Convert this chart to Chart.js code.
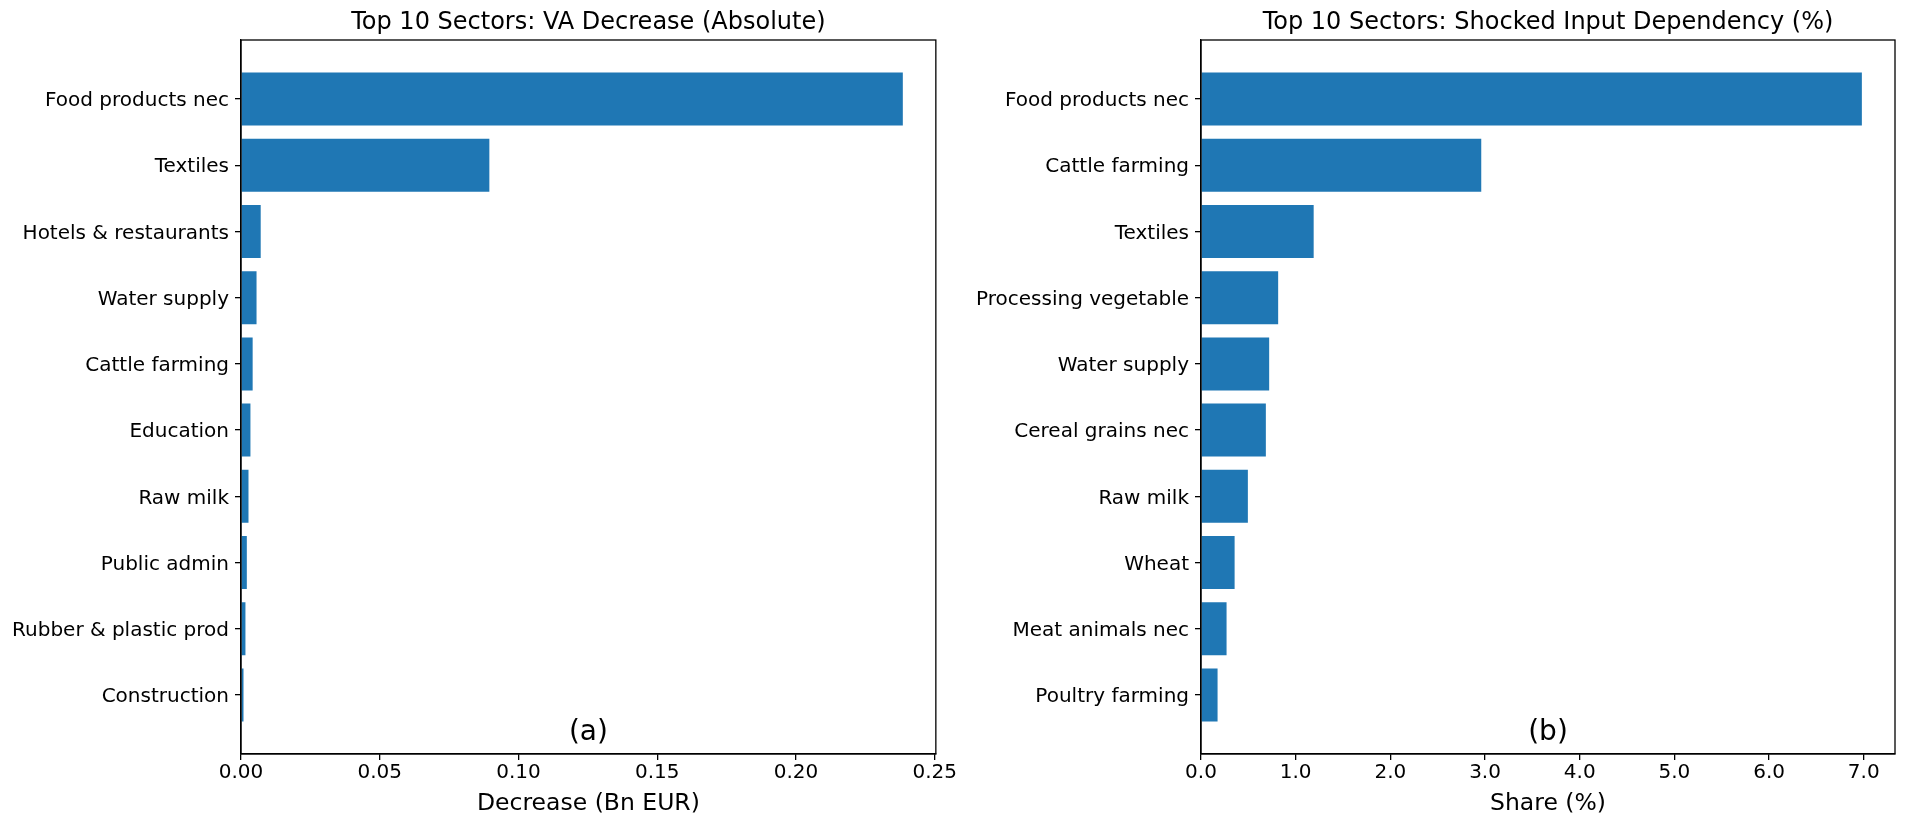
<!DOCTYPE html>
<html>
<head>
<meta charset="utf-8">
<script src="https://cdn.jsdelivr.net/npm/chart.js@4.4.1/dist/chart.umd.min.js"></script>
<style>
  html, body { margin: 0; padding: 0; background: #fff; }
  body { width: 1907px; height: 827px; position: relative; overflow: hidden; }
  .panel { position: absolute; top: 0; height: 827px; }
  #panelA { left: 0; width: 958px; }
  #panelB { left: 950px; width: 957px; }
</style>
</head>
<body>
<div class="panel" id="panelA"><canvas id="chartA"></canvas></div>
<div class="panel" id="panelB"><canvas id="chartB"></canvas></div>
<script>
// ---- data ----
const labelsA = ['Food products nec', 'Textiles', 'Hotels & restaurants', 'Water supply', 'Cattle farming',
  'Education', 'Raw milk', 'Public admin', 'Rubber & plastic prod', 'Construction'];
const valuesA = [0.2385, 0.0895, 0.0071, 0.0056, 0.0042, 0.0034, 0.0027, 0.0021, 0.0016, 0.0009];
const ticksA = [0, 0.05, 0.10, 0.15, 0.20, 0.25];

const labelsB = ['Food products nec', 'Cattle farming', 'Textiles', 'Processing vegetable', 'Water supply',
  'Cereal grains nec', 'Raw milk', 'Wheat', 'Meat animals nec', 'Poultry farming'];
const valuesB = [6.98, 2.96, 1.19, 0.815, 0.72, 0.685, 0.495, 0.355, 0.27, 0.175];
const ticksB = [0, 1, 2, 3, 4, 5, 6, 7];

const FONT = "'DejaVu Sans', sans-serif";
const BAR = '#1f77b4';

// frame + title + panel letter
const panelText = {
  id: 'panelText',
  afterDraw(chart, args, opts) {
    const { ctx, chartArea: a } = chart;
    const cx = (a.left + a.right) / 2;
    ctx.save();
    ctx.strokeStyle = '#000';
    ctx.lineWidth = 1.3;
    ctx.strokeRect(a.left, a.top, a.right - a.left, a.bottom - a.top);
    ctx.fillStyle = '#000';
    ctx.textAlign = 'center';
    ctx.textBaseline = 'middle';
    ctx.font = '24px ' + FONT;
    ctx.fillText(opts.title, cx, 23);
    ctx.font = '28px ' + FONT;
    ctx.fillText(opts.letter, cx, a.bottom - 21);
    ctx.restore();
  }
};

function makeChart(id, labels, values, xTicks, xMax, digits, xTitle, title, letter, yWidth, padRight) {
  const ctx = document.getElementById(id).getContext('2d');
  return new Chart(ctx, {
    type: 'bar',
    data: {
      datasets: [{
        data: values.map((v, i) => ({ x: v, y: i })),
        backgroundColor: BAR,
        borderWidth: 0,
        barPercentage: 0.8,
        categoryPercentage: 1.0
      }]
    },
    options: {
      indexAxis: 'y',
      responsive: true,
      maintainAspectRatio: false,
      animation: false,
      layout: { padding: { top: 40, right: padRight, bottom: 0, left: 0 } },
      plugins: {
        legend: { display: false },
        tooltip: { enabled: false },
        panelText: { title: title, letter: letter }
      },
      scales: {
        y: {
          type: 'linear',
          reverse: true,
          min: -0.89,
          max: 9.89,
          offset: false,
          afterBuildTicks: s => { s.ticks = labels.map((_, i) => ({ value: i })); },
          afterFit: s => { s.width = yWidth; },
          ticks: {
            callback: v => labels[v],
            color: '#000',
            font: { family: FONT, size: 20 },
            padding: 6,
            labelOffset: 2
          },
          grid: { offset: false, drawOnChartArea: false, drawTicks: true, tickLength: 6, color: '#000', lineWidth: 1.3 },
          border: { color: '#000', width: 1.3 }
        },
        x: {
          type: 'linear',
          min: 0,
          max: xMax,
          afterBuildTicks: s => { s.ticks = xTicks.map(v => ({ value: v })); },
          afterFit: s => { s.height = 73; },
          ticks: {
            callback: v => Number(v).toFixed(digits),
            color: '#000',
            font: { family: FONT, size: 20 },
            padding: 1,
            maxRotation: 0
          },
          grid: { drawOnChartArea: false, drawTicks: true, tickLength: 6, color: '#000', lineWidth: 1.3 },
          border: { color: '#000', width: 1.3 },
          title: {
            display: true,
            text: xTitle,
            color: '#000',
            font: { family: FONT, size: 23.5 },
            padding: { top: 0, bottom: 9 }
          }
        }
      }
    },
    plugins: [panelText]
  });
}

makeChart('chartA', labelsA, valuesA, ticksA, 0.2504, 2, 'Decrease (Bn EUR)',
  'Top 10 Sectors: VA Decrease (Absolute)', '(a)', 241, 0);
makeChart('chartB', labelsB, valuesB, ticksB, 7.33, 1, 'Share (%)',
  'Top 10 Sectors: Shocked Input Dependency (%)', '(b)', 251, 12);
</script>
</body>
</html>
